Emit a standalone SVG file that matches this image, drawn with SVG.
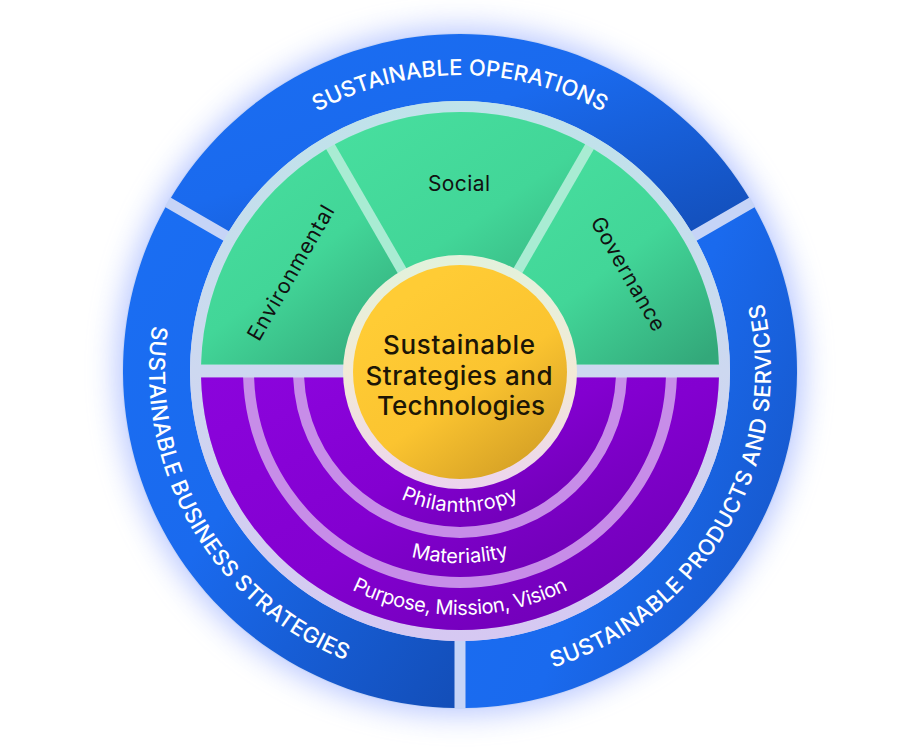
<svg xmlns="http://www.w3.org/2000/svg" width="920" height="750" viewBox="0 0 920 750">
<defs>
<filter id="glow" x="-30%" y="-30%" width="160%" height="160%"><feGaussianBlur stdDeviation="15"/></filter>
<linearGradient id="blueGrad" x1="0" y1="0" x2="1" y2="1"><stop offset="0" stop-color="#1a6ef3"/><stop offset="0.45" stop-color="#1a6aee"/><stop offset="1" stop-color="#134eb8"/></linearGradient>
<linearGradient id="blueGradR" x1="0" y1="0.2" x2="1" y2="0.8"><stop offset="0" stop-color="#1a6ef3"/><stop offset="0.5" stop-color="#1a6aee"/><stop offset="1" stop-color="#1655c6"/></linearGradient>
<linearGradient id="baseGrad" x1="0" y1="0" x2="0" y2="1"><stop offset="0" stop-color="#bfe3ea"/><stop offset="0.5" stop-color="#cdd8f0"/><stop offset="1" stop-color="#d6c8f2"/></linearGradient>
<linearGradient id="greenGrad" x1="0.15" y1="0" x2="0.9" y2="1"><stop offset="0" stop-color="#47de9e"/><stop offset="0.5" stop-color="#42d698"/><stop offset="1" stop-color="#33a87a"/></linearGradient>
<linearGradient id="purpleGrad" x1="0" y1="0" x2="1" y2="1"><stop offset="0" stop-color="#8b04dc"/><stop offset="0.5" stop-color="#8300d0"/><stop offset="1" stop-color="#6900ad"/></linearGradient>
<linearGradient id="haloGrad" x1="0" y1="0" x2="0" y2="1"><stop offset="0" stop-color="#e2f2dc"/><stop offset="0.5" stop-color="#f2ead6"/><stop offset="1" stop-color="#ecd4ee"/></linearGradient>
<linearGradient id="goldGrad" x1="0.25" y1="0.15" x2="0.85" y2="1"><stop offset="0" stop-color="#ffcc35"/><stop offset="0.5" stop-color="#fbc430"/><stop offset="1" stop-color="#d09c24"/></linearGradient>
<path id="arcTop" d="M203.7,223 A296,296 0 0 1 716.3,223"/>
<path id="arcLeft" d="M190.7,215.5 A311,311 0 0 0 460,682"/>
<path id="arcRight" d="M460,682 A311,311 0 0 0 729.3,215.5"/>
<path id="arcP1" d="M360.3,470.7 A141,141 0 0 0 559.7,470.7"/>
<path id="arcP2" d="M324.2,506.8 A192,192 0 0 0 595.8,506.8"/>
<path id="arcP3" d="M287.5,543.5 A244,244 0 0 0 632.5,543.5"/>
</defs>
<style>
.ring{font-family:Inter,"Liberation Sans",sans-serif;font-size:22px;font-weight:500;fill:#ffffff;}
.green{font-family:Inter,"Liberation Sans",sans-serif;font-size:21px;font-weight:400;fill:#111111;}
.purple{font-family:Inter,"Liberation Sans",sans-serif;font-size:20px;font-weight:400;fill:#ffffff;}
.center{font-family:Inter,"Liberation Sans",sans-serif;font-size:26px;font-weight:500;fill:#1c1606;text-anchor:middle;}
.blue{fill:url(#blueGrad);}
.greenSec{fill:url(#greenGrad);}
.band{fill:url(#purpleGrad);}
</style>
<rect width="920" height="750" fill="#ffffff"/>
<circle cx="460" cy="371" r="343" fill="#7d98ff" opacity="0.55" filter="url(#glow)"/>
<circle cx="460" cy="371" r="338" fill="#c6d4f7"/>

<g id="sustainable-operations">
<path class="blue" d="M170.95,197.75 A337,337 0 0 1 749.05,197.75 L691.03,231.26 A270,270 0 0 0 228.97,231.26 Z"/>
<text class="ring"><textPath href="#arcTop" startOffset="50%" text-anchor="middle" textLength="298" lengthAdjust="spacing">SUSTAINABLE OPERATIONS</textPath></text>
</g>
<g id="sustainable-business-strategies">
<path class="blue" d="M165.44,207.29 A337,337 0 0 0 454.5,707.96 L454.5,640.94 A270,270 0 0 1 223.47,240.79 Z"/>
<text class="ring"><textPath href="#arcLeft" startOffset="50%" text-anchor="middle" textLength="417" lengthAdjust="spacing">SUSTAINABLE BUSINESS STRATEGIES</textPath></text>
</g>
<g id="sustainable-products-services">
<path fill="url(#blueGradR)" d="M465.5,707.96 A337,337 0 0 0 754.56,207.29 L696.53,240.79 A270,270 0 0 1 465.5,640.94 Z"/>
<text class="ring"><textPath href="#arcRight" startOffset="50%" text-anchor="middle" textLength="462" lengthAdjust="spacing">SUSTAINABLE PRODUCTS AND SERVICES</textPath></text>
</g>

<circle cx="460" cy="371" r="270" fill="url(#baseGrad)"/>
<path d="M201.08,364.5 A259,259 0 0 1 718.92,364.5 Z" fill="#a9ecd3"/>
<path d="M201.08,377.5 A259,259 0 0 0 718.92,377.5 Z" fill="#c78de8"/>

<g id="environmental">
<path class="greenSec" d="M201.08,364.5 A259,259 0 0 1 326.19,149.24 L405.67,286.9 L405.67,364.5 Z"/>
<text class="green" transform="translate(291,273) rotate(-60)" x="0" y="7" text-anchor="middle" textLength="152" lengthAdjust="spacing">Environmental</text>
</g>
<g id="social">
<path class="greenSec" d="M334.85,144.24 A259,259 0 0 1 585.15,144.24 L505.67,281.9 L460,340 L414.33,281.9 Z"/>
<text class="green" x="459" y="191" text-anchor="middle" textLength="62" lengthAdjust="spacing">Social</text>
</g>
<g id="governance">
<path class="greenSec" d="M718.92,364.5 A259,259 0 0 0 593.81,149.24 L514.33,286.9 L514.33,364.5 Z"/>
<text class="green" transform="translate(628,274) rotate(60)" x="0" y="7" text-anchor="middle" textLength="128" lengthAdjust="spacing">Governance</text>
</g>

<g id="purpose-mission-vision">
<path class="band" d="M201.08,377.5 A259,259 0 0 0 718.92,377.5 L676.9,377.5 A217,217 0 0 1 243.1,377.5 Z"/>
<text class="purple"><textPath href="#arcP3" startOffset="50%" text-anchor="middle" textLength="224" lengthAdjust="spacing">Purpose, Mission, Vision</textPath></text>
</g>
<g id="materiality">
<path class="band" d="M254.1,377.5 A206,206 0 0 0 665.9,377.5 L626.87,377.5 A167,167 0 0 1 293.13,377.5 Z"/>
<text class="purple"><textPath href="#arcP2" startOffset="50%" text-anchor="middle" textLength="99" lengthAdjust="spacing">Materiality</textPath></text>
</g>
<g id="philanthropy">
<path class="band" d="M304.14,377.5 A156,156 0 0 0 615.86,377.5 L559.79,377.5 A100,100 0 0 1 360.21,377.5 Z"/>
<text class="purple"><textPath href="#arcP1" startOffset="50%" text-anchor="middle" textLength="122" lengthAdjust="spacing">Philanthropy</textPath></text>
</g>

<g id="sustainable-strategies-technologies">
<circle cx="460" cy="372" r="117" fill="url(#haloGrad)"/>
<circle cx="460" cy="372" r="107" fill="url(#goldGrad)"/>
<text class="center" x="459" y="354" textLength="152" lengthAdjust="spacing">Sustainable</text>
<text class="center" x="459" y="385" textLength="187" lengthAdjust="spacing">Strategies and</text>
<text class="center" x="461" y="415" textLength="168" lengthAdjust="spacing">Technologies</text>
</g>

<g id="connectors"/>
</svg>
